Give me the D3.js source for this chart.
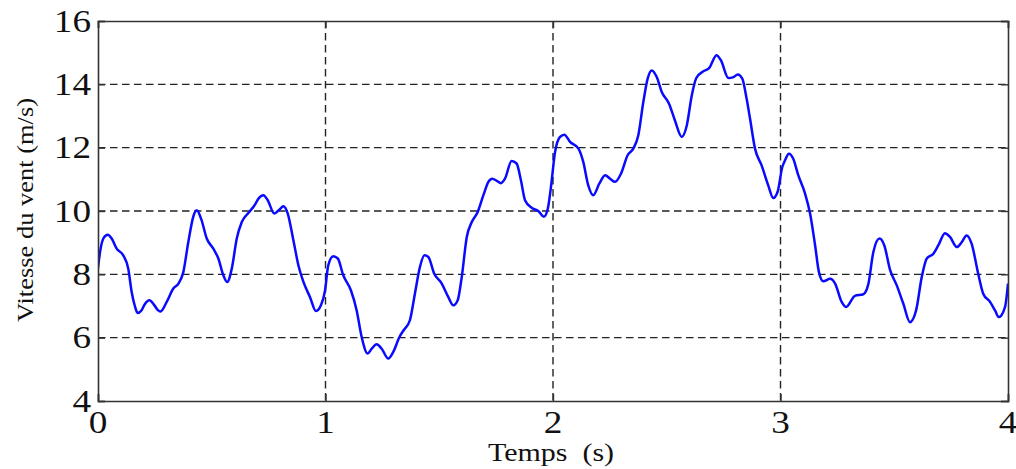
<!DOCTYPE html>
<html>
<head>
<meta charset="utf-8">
<script src="https://cdn.jsdelivr.net/npm/d3@7"></script>
<style>
  html, body { margin: 0; padding: 0; background: #fff; }
  svg { display: block; }
  text { font-family: "Liberation Serif", "Times New Roman", serif; fill: #111; white-space: pre; }
</style>
</head>
<body>
<svg id="chart" width="1016" height="469"></svg>
<script>
const times = [0.000,0.010,0.025,0.043,0.060,0.082,0.111,0.133,0.148,0.162,0.174,0.190,0.205,0.226,0.248,0.262,0.275,0.302,0.331,0.355,0.375,0.397,0.420,0.434,0.453,0.478,0.507,0.529,0.551,0.568,0.588,0.610,0.632,0.665,0.690,0.705,0.727,0.746,0.775,0.797,0.815,0.834,0.859,0.881,0.903,0.932,0.958,0.980,0.998,1.012,1.034,1.054,1.078,1.112,1.137,1.159,1.185,1.203,1.225,1.247,1.276,1.298,1.325,1.345,1.371,1.393,1.415,1.435,1.452,1.478,1.511,1.540,1.562,1.581,1.599,1.621,1.643,1.669,1.694,1.716,1.733,1.753,1.771,1.789,1.818,1.840,1.859,1.877,1.906,1.935,1.960,1.977,1.990,2.009,2.031,2.050,2.075,2.112,2.133,2.155,2.177,2.204,2.229,2.251,2.273,2.299,2.328,2.353,2.375,2.397,2.416,2.434,2.456,2.478,2.510,2.536,2.566,2.588,2.610,2.630,2.661,2.686,2.719,2.738,2.771,2.793,2.812,2.832,2.851,2.866,2.888,2.917,2.946,2.968,2.987,3.008,3.020,3.037,3.056,3.078,3.108,3.130,3.152,3.169,3.188,3.218,3.240,3.269,3.288,3.327,3.364,3.386,3.408,3.435,3.456,3.482,3.511,3.540,3.569,3.596,3.621,3.643,3.672,3.694,3.723,3.745,3.775,3.797,3.818,3.840,3.869,3.891,3.921,3.943,3.960,3.987,4.000];
const speeds = [8.2,8.75,9.15,9.25,9.13,8.81,8.6,8.18,7.44,7.0,6.78,6.85,7.05,7.18,7.02,6.88,6.83,7.13,7.55,7.72,8.07,9.02,9.85,10.02,9.76,9.13,8.81,8.5,7.97,7.76,8.18,9.13,9.65,9.97,10.2,10.39,10.5,10.34,9.92,10.04,10.15,9.92,9.07,8.28,7.76,7.28,6.84,7.02,7.49,8.28,8.57,8.5,7.97,7.49,6.86,6.02,5.5,5.65,5.79,5.65,5.34,5.55,6.02,6.25,6.55,7.39,8.23,8.6,8.55,8.02,7.71,7.28,7.02,7.18,7.92,9.18,9.65,9.97,10.5,10.92,11.02,10.95,10.88,11.02,11.58,11.5,10.97,10.34,10.1,10.0,9.82,10.07,10.7,11.86,12.34,12.41,12.18,11.97,11.55,10.81,10.5,10.87,11.13,11.02,10.92,11.18,11.76,11.97,12.39,13.44,14.18,14.44,14.23,13.76,13.39,12.86,12.34,12.7,13.65,14.2,14.41,14.51,14.92,14.76,14.2,14.23,14.31,14.18,13.55,12.92,11.97,11.44,10.81,10.41,10.6,11.39,11.6,11.81,11.65,11.13,10.55,9.92,8.92,8.07,7.78,7.86,7.71,7.13,6.97,7.32,7.37,7.69,8.7,9.13,8.92,8.13,7.65,7.07,6.49,6.86,7.92,8.5,8.65,8.92,9.3,9.18,8.86,9.02,9.23,8.97,8.02,7.39,7.13,6.86,6.65,6.97,7.71];
const xTicks = [0, 1, 2, 3, 4];
const yTicks = [4, 6, 8, 10, 12, 14, 16];
const xLabel = "Temps  (s)";
const yLabel = "Vitesse du vent (m/s)";

const svg = d3.select("#chart");
const L = 98, R = 1008, T = 21, B = 401;
const x = d3.scaleLinear().domain([0, 4]).range([L, R]);
const y = d3.scaleLinear().domain([4, 16]).range([B, T]);

// grid
const grid = svg.append("g").attr("stroke", "#222").attr("stroke-width", 1.4)
  .attr("stroke-dasharray", "7.5,4.5").attr("fill", "none");
xTicks.filter(d => d > 0 && d < 4).forEach(d => {
  grid.append("line").attr("x1", x(d)).attr("x2", x(d)).attr("y1", T).attr("y2", B);
});
yTicks.filter(d => d > 4 && d < 16).forEach(d => {
  grid.append("line").attr("x1", L).attr("x2", R).attr("y1", y(d)).attr("y2", y(d));
});

// line
svg.append("clipPath").attr("id", "clip").append("rect")
  .attr("x", L).attr("y", T).attr("width", R - L).attr("height", B - T);
const data = times.map((t, i) => [t, speeds[i]]);
svg.append("path").datum(data)
  .attr("clip-path", "url(#clip)")
  .attr("fill", "none").attr("stroke", "#0a0aff").attr("stroke-width", 2.5)
  .attr("stroke-linejoin", "round")
  .attr("d", d3.line().x(d => x(d[0])).y(d => y(d[1])).curve(d3.curveMonotoneX));

// axes with inward ticks
const tickLen = 7;
const axB = svg.append("g").attr("transform", `translate(0,${B})`)
  .call(d3.axisBottom(x).tickValues(xTicks).tickSize(-tickLen).tickFormat(""));
const axT = svg.append("g").attr("transform", `translate(0,${T})`)
  .call(d3.axisTop(x).tickValues(xTicks).tickSize(-tickLen).tickFormat(""));
const axL = svg.append("g").attr("transform", `translate(${L},0)`)
  .call(d3.axisLeft(y).tickValues(yTicks).tickSize(-tickLen).tickFormat(""));
const axR = svg.append("g").attr("transform", `translate(${R},0)`)
  .call(d3.axisRight(y).tickValues(yTicks).tickSize(-tickLen).tickFormat(""));
[axB, axT, axL, axR].forEach(a => {
  a.selectAll("path").attr("stroke", "#333").attr("stroke-width", 1.6);
  a.selectAll("line").attr("stroke", "#333").attr("stroke-width", 1.4);
});

// tick labels
const sx = 1.2;
svg.append("g").selectAll("text").data(xTicks).join("text")
  .attr("transform", d => `translate(${x(d)},433) scale(${sx},1)`)
  .attr("text-anchor", "middle").attr("font-size", 31).text(d => d);
svg.append("g").selectAll("text").data(yTicks).join("text")
  .attr("transform", d => `translate(91,${y(d) + 10.5}) scale(${sx},1)`)
  .attr("text-anchor", "end").attr("font-size", 31).text(d => d);

// titles
svg.append("text")
  .attr("transform", `translate(551,461) scale(${sx},1)`)
  .attr("text-anchor", "middle").attr("font-size", 25).text(xLabel);
svg.append("text")
  .attr("transform", `translate(33,210) rotate(-90)`)
  .attr("text-anchor", "middle").attr("font-size", 24)
  .attr("textLength", 224).attr("lengthAdjust", "spacingAndGlyphs")
  .text(yLabel);
</script>
</body>
</html>
